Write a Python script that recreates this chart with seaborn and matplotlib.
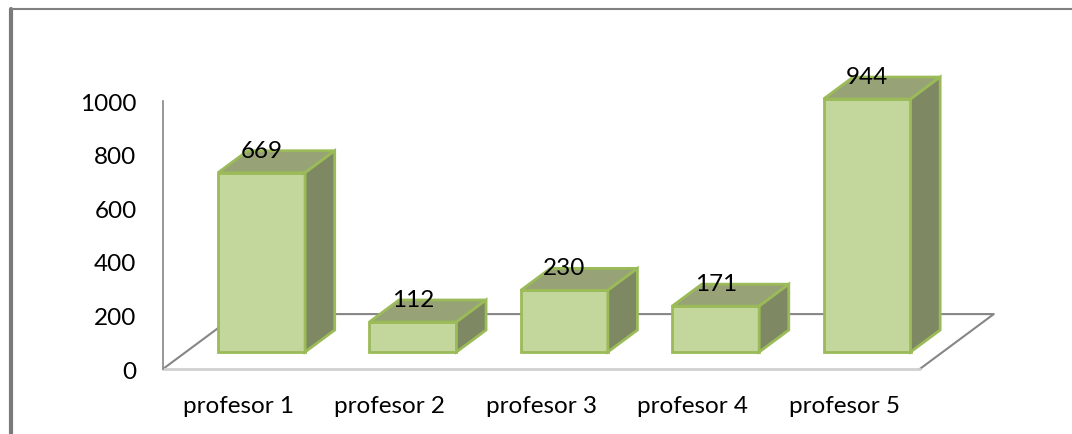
import matplotlib
matplotlib.use("Agg")
import matplotlib.pyplot as plt
from matplotlib.patches import Polygon
from matplotlib.lines import Line2D
import seaborn as sns

# data
profesores = ["profesor 1", "profesor 2", "profesor 3", "profesor 4", "profesor 5"]
valores = [669, 112, 230, 171, 944]
y_ticks = [0, 200, 400, 600, 800, 1000]

# colours (Excel 2007 olive green 3D look)
c_front = "#C3D69B"
c_top = "#97A277"
c_side = "#7E8862"
c_edge = "#9BBB59"

sns.set_style("white")
plt.rcParams["font.family"] = ["Lato", "DejaVu Sans"]

fig = plt.figure(figsize=(10.72, 4.35), dpi=100)
ax = fig.add_axes([0.152, 0.1494, 0.706, 0.616])

sns.barplot(x=profesores, y=valores, color=c_front, width=0.575,
            edgecolor=c_edge, linewidth=2, saturation=1, ax=ax)

# perspective: full floor depth in data units, bar front/back depth fractions
dx, dy = 0.489, 205
zf, zb = 0.31, 0.71

ax.set_xlim(-0.5, len(profesores) - 0.5)
ax.set_ylim(0, 1000)

# floor outline
x0, x1 = ax.get_xlim()
ax.plot([x0, x0 + dx, x1 + dx, x1], [0, dy, dy, 0], color="#868686",
        lw=1.5, zorder=0.5, clip_on=False)
ax.plot([x0, x1], [0, 0], color="#D0D0D0", lw=2, zorder=0.5, clip_on=False)

ddx, ddy = (zb - zf) * dx, (zb - zf) * dy
for p, v in zip(ax.patches, valores):
    p.set_x(p.get_x() + zf * dx)
    p.set_y(zf * dy)
    p.set_clip_on(False)
    p.set_zorder(2)
    bx0 = p.get_x()
    bx1 = bx0 + p.get_width()
    by0 = p.get_y()
    by1 = by0 + p.get_height()
    top = Polygon([(bx0, by1), (bx1, by1), (bx1 + ddx, by1 + ddy), (bx0 + ddx, by1 + ddy)],
                  closed=True, facecolor=c_top, edgecolor=c_edge, lw=2,
                  zorder=2, clip_on=False)
    side = Polygon([(bx1, by0), (bx1, by1), (bx1 + ddx, by1 + ddy), (bx1 + ddx, by0 + ddy)],
                   closed=True, facecolor=c_side, edgecolor=c_edge, lw=2,
                   zorder=2, clip_on=False)
    ax.add_patch(top)
    ax.add_patch(side)
    ax.annotate(str(v), xy=((bx0 + bx1) / 2, by1), xytext=(0, 11.5),
                textcoords="offset points", ha="center", va="baseline",
                fontsize=17.5, color="black", zorder=3, annotation_clip=False)

ax.set_yticks(y_ticks)
ax.set_xlabel("")
ax.set_ylabel("")
ax.tick_params(axis="both", length=0, labelsize=17.5, colors="black")
ax.tick_params(axis="y", pad=19)
ax.tick_params(axis="x", pad=19)
for s in ["top", "right", "bottom"]:
    ax.spines[s].set_visible(False)
ax.spines["left"].set_color("#868686")
ax.spines["left"].set_linewidth(1.2)
ax.spines["left"].set_bounds(0, 1000)
ax.patch.set_alpha(0)

# outer chart frame (left and top edges visible)
W, H = 1072, 435
fig.add_artist(Line2D([11 / W, 11 / W], [0, 1 - 10 / H], color="#7A7A7A", lw=3,
                      transform=fig.transFigure))
fig.add_artist(Line2D([11 / W, 1], [1 - 10 / H, 1 - 10 / H], color="#808080", lw=1.5,
                      transform=fig.transFigure))

fig.savefig("out.png", dpi=100, facecolor="white")
